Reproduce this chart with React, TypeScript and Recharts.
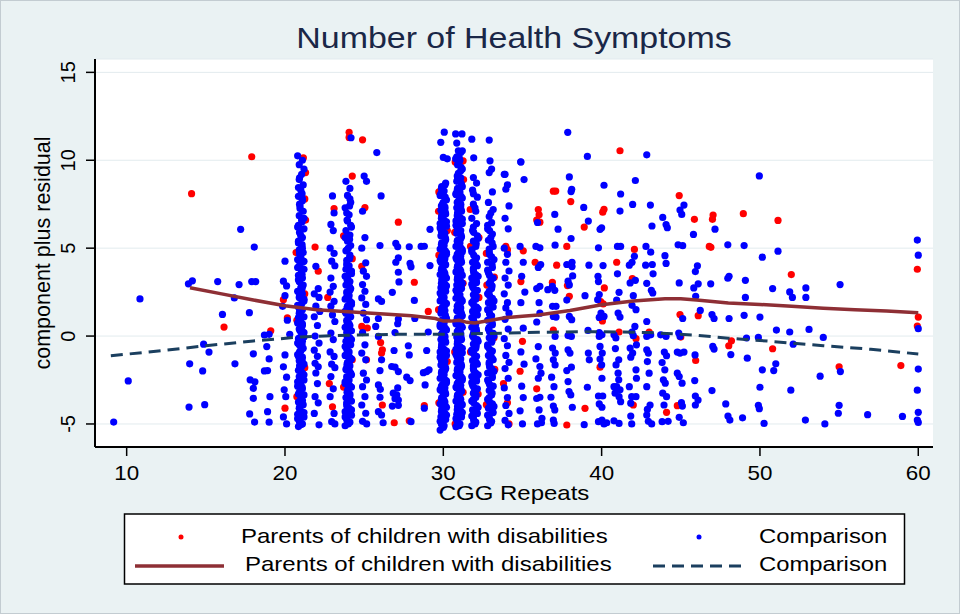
import React from 'react';
import { ScatterChart, Scatter, XAxis, YAxis, CartesianGrid } from 'recharts';

type P = [number, number];

const FONT = '"Liberation Sans", Arial, Helvetica, sans-serif';
const chartTitle = 'Number of Health Symptoms';
const xTitle = 'CGG Repeats';
const yTitle = 'component plus residual';
const seriesNames = ['Parents of children with disabilities', 'Comparison'];
const xTicks = [10, 20, 30, 40, 50, 60];
const yTicks = [-5, 0, 5, 10, 15];

// ---------- Comparison group (blue) ----------
const comparisonLeft: P[] = [
  [17.2, 6.07], [18.06, 5.06], [13.9, 2.97], [14.15, 3.14], [15.75, 3.1], [17.1, 2.93], [17.9, 3.1], [18.15, 3.1],
  [10.84, 2.11], [16.8, 2.17], [16.05, 1.23], [17.75, 1.33], [18.7, 0.06], [14.86, -0.46], [15.2, -0.91], [18.0, -1.01],
  [13.98, -1.58], [14.8, -1.98], [16.84, -1.58], [10.1, -2.55], [17.8, -2.49], [18.1, -2.6], [18.0, -2.97], [18.0, -3.54],
  [13.94, -4.04], [14.93, -3.9], [17.77, -4.43], [18.08, -4.89], [9.18, -4.89], [18.7, -1.98],
  [19.0, 0.1], [18.85, -0.6], [19.0, -1.3], [18.9, -1.96], [19.05, -3.45], [18.9, -4.3], [19.0, -4.9],
  [20.0, 4.26], [19.9, 3.12], [20.1, 2.85], [20.0, 2.3], [19.85, 1.69], [20.15, 0.9], [20.3, 0.1], [20.0, -1.07],
  [19.9, -1.75], [20.1, -2.34], [19.95, -3.06], [20.05, -3.45], [19.9, -4.6], [20.1, -5.0],
];

const comparisonCol21: P[] = [
  [20.85, -5.15], [21.1, -5.0], [20.95, -4.8], [21.2, -4.6], [20.8, -4.45], [21.05, -4.3], [20.9, -4.1], [21.15, -3.9],
  [20.85, -3.75], [21.0, -3.55], [21.2, -3.35], [20.9, -3.2], [21.1, -3.0], [20.8, -2.85], [21.0, -2.65], [21.2, -2.5],
  [20.9, -2.3], [21.1, -2.1], [20.85, -1.95], [21.05, -1.75], [21.2, -1.6], [20.9, -1.4], [21.1, -1.2], [20.8, -1.05],
  [21.0, -0.85], [21.15, -0.7], [20.9, -0.5], [21.1, -0.3], [20.85, -0.15], [21.05, 0.05], [21.2, 0.2], [20.9, 0.4],
  [21.1, 0.6], [20.8, 0.75], [21.0, 0.95], [21.2, 1.1], [20.9, 1.3], [21.1, 1.5], [20.85, 1.65], [21.05, 1.85],
  [21.2, 2.0], [20.9, 2.2], [21.1, 2.4], [20.8, 2.55], [21.0, 2.75], [21.15, 2.9], [20.9, 3.1], [21.1, 3.3],
  [20.85, 3.45], [21.05, 3.65], [21.2, 3.8], [20.9, 4.0], [21.1, 4.2], [20.8, 4.35], [21.0, 4.55], [21.15, 4.75],
  [20.9, 4.9], [21.05, 5.15], [20.85, 5.4], [21.1, 5.6], [20.95, 5.85], [21.2, 6.1], [20.85, 6.3], [21.05, 6.6],
  [20.9, 6.85], [21.15, 7.1], [20.95, 7.4], [21.1, 7.7], [20.85, 7.95], [21.0, 8.3], [21.15, 8.6], [20.9, 8.9],
  [21.05, 9.2], [21.2, 9.5], [20.9, 9.75], [20.8, 10.25], [21.1, 10.0],
];

const comparisonCol21b: P[] = [
  [21.0, -5.05], [20.8, -4.7], [21.2, -4.35], [20.95, -4.0], [21.1, -3.65], [20.85, -3.3], [21.0, -2.95], [20.8, -2.6],
  [21.2, -2.2], [20.95, -1.85], [21.1, -1.5], [20.85, -1.15], [21.0, -0.8], [20.8, -0.4], [21.2, -0.05], [20.95, 0.3],
  [21.1, 0.7], [20.85, 1.05], [21.0, 1.4], [20.8, 1.75], [21.2, 2.1], [20.95, 2.5], [21.1, 2.85], [20.85, 3.2],
  [21.0, 3.55], [20.8, 3.9], [21.2, 4.25], [20.95, 4.65], [21.1, 5.0], [20.85, 5.3], [21.0, 5.7], [20.8, 6.2],
  [21.2, 6.7], [20.95, 7.25], [21.1, 7.8], [20.85, 8.45],
];

const comparisonCol21c: P[] = [
  [20.92, -4.9], [21.08, -4.5], [20.92, -4.1], [21.08, -3.7], [20.92, -3.3], [21.08, -2.9], [20.92, -2.5], [21.08, -2.1],
  [20.92, -1.7], [21.08, -1.3], [20.92, -0.9], [21.08, -0.5], [20.92, -0.1], [21.08, 0.3], [20.92, 0.7], [21.08, 1.1],
  [20.92, 1.5], [21.08, 1.9], [20.92, 2.3], [21.08, 2.7], [20.92, 3.1], [21.08, 3.5], [20.92, 3.9], [21.08, 4.3],
  [20.92, 4.7], [21.08, 5.2], [20.92, 5.9], [21.08, 6.5], [20.92, 7.5], [21.08, 8.1], [20.92, 9.0],
];

const comparisonCol22to23: P[] = [
  [21.95, 3.97], [22.1, 2.7], [21.85, 2.4], [22.15, 2.2], [21.95, 1.7], [22.2, 1.4], [21.85, 1.1], [22.05, 0.6],
  [21.9, 0.0], [22.15, -0.4], [21.85, -0.8], [22.05, -1.15], [21.9, -1.55], [22.1, -1.75], [21.95, -2.1], [22.05, -2.7],
  [21.9, -3.45], [22.1, -3.8], [21.85, -4.4], [22.15, -5.05],
  [23.0, 7.97], [23.1, 7.0], [22.9, 6.35], [23.05, 6.0], [22.85, 5.0], [23.1, 4.7], [22.95, 4.26], [23.15, 4.0],
  [22.9, 3.3], [23.05, 2.83], [22.85, 2.5], [23.1, 1.97], [22.9, 1.7], [23.0, 1.2], [23.15, 0.83], [22.9, 0.17],
  [23.05, -0.2], [22.85, -0.9], [23.1, -1.16], [22.95, -1.6], [23.15, -1.8], [22.9, -2.3], [23.05, -3.0], [22.85, -3.45],
  [23.1, -4.4], [22.95, -4.87], [23.15, -5.0],
];

const comparisonCol24: P[] = [
  [23.8, -5.1], [24.1, -4.9], [23.9, -4.7], [24.2, -4.5], [23.8, -4.3], [24.05, -4.1], [23.9, -3.9], [24.2, -3.7],
  [23.85, -3.5], [24.1, -3.3], [23.95, -3.1], [24.2, -2.9], [23.8, -2.7], [24.05, -2.5], [23.9, -2.3], [24.15, -2.1],
  [23.85, -1.9], [24.1, -1.7], [23.95, -1.5], [24.2, -1.3], [23.8, -1.1], [24.05, -0.9], [23.9, -0.7], [24.15, -0.5],
  [23.85, -0.3], [24.1, -0.1], [23.95, 0.1], [24.2, 0.3], [23.8, 0.5], [24.05, 0.7], [23.9, 0.9], [24.15, 1.1],
  [23.85, 1.3], [24.1, 1.5], [23.95, 1.7], [24.2, 1.9], [23.8, 2.1], [24.05, 2.3], [23.9, 2.5], [24.15, 2.7],
  [23.85, 2.9], [24.1, 3.1], [23.95, 3.3], [24.2, 3.55], [23.85, 3.8], [24.05, 4.0], [23.9, 4.3], [24.1, 4.6],
  [23.85, 4.85], [24.15, 5.15], [23.95, 5.4], [24.1, 5.75], [23.85, 6.0], [24.15, 6.3], [23.95, 6.55], [24.05, 6.9],
  [23.8, 7.3], [24.15, 7.6], [23.95, 8.0], [24.1, 8.4], [23.85, 8.8], [24.17, 11.28],
];

const comparisonCol24b: P[] = [
  [24.0, -5.0], [23.8, -4.6], [24.2, -4.2], [23.9, -3.8], [24.1, -3.4], [24.0, -3.0], [23.8, -2.6], [24.2, -2.2],
  [23.9, -1.8], [24.1, -1.4], [24.0, -1.0], [23.8, -0.6], [24.2, -0.2], [23.9, 0.2], [24.1, 0.6], [24.0, 1.0],
  [23.8, 1.4], [24.2, 1.8], [23.9, 2.2], [24.1, 2.6], [24.0, 3.0], [23.8, 3.4], [24.2, 3.7], [23.9, 4.1],
  [24.1, 4.5], [24.0, 5.0], [23.8, 5.6], [24.2, 6.2], [23.9, 7.0], [24.1, 7.8],
];

const comparisonCol24c: P[] = [
  [23.92, -4.8], [24.08, -4.4], [23.92, -4.0], [24.08, -3.6], [23.92, -3.2], [24.08, -2.8], [23.92, -2.4], [24.08, -2.0],
  [23.92, -1.6], [24.08, -1.2], [23.92, -0.8], [24.08, -0.4], [23.92, 0.0], [24.08, 0.4], [23.92, 0.8], [24.08, 1.2],
  [23.92, 1.6], [24.08, 2.0], [23.92, 2.4], [24.08, 2.8], [23.92, 3.2], [24.08, 3.6], [23.92, 4.0], [24.08, 4.4],
  [23.92, 4.9], [24.08, 5.5], [23.92, 6.6], [24.08, 7.4],
];

const comparisonCol25to29: P[] = [
  [25.0, 9.1], [25.15, 8.8], [24.9, 7.1], [25.05, 5.6], [24.85, 5.0], [25.1, 4.17], [24.95, 3.69], [25.15, 3.4],
  [24.9, 2.93], [25.05, 2.55], [24.85, 2.17], [25.1, 1.8], [24.95, 1.31], [25.15, 0.93], [24.9, 0.2], [25.05, -0.5],
  [24.85, -0.97], [25.1, -1.35], [24.95, -2.11], [25.15, -2.5], [24.9, -2.88], [25.05, -3.45], [24.85, -3.92], [25.1, -4.39],
  [25.16, -5.0], [24.9, -4.85],
  [25.8, 10.44], [26.07, 7.97], [26.0, 5.15], [25.9, 2.11], [26.1, 1.97], [25.9, 1.0], [25.73, 0.55], [25.9, -0.02],
  [26.1, -1.35], [26.0, -1.96], [25.9, -2.78], [26.02, -3.03], [26.0, -3.48], [25.9, -4.3], [26.1, -4.49], [26.2, -4.93],
  [27.0, 5.27], [27.12, 5.08], [27.16, 4.45], [27.0, 4.2], [27.16, 3.63], [27.2, 3.08], [26.78, 2.49], [27.16, 0.97],
  [27.12, 0.7], [26.95, 0.2], [26.89, -0.82], [26.74, -1.73], [26.95, -1.77], [27.16, -2.02], [27.12, -2.95], [26.84, -3.25],
  [27.06, -3.35], [26.95, -3.56], [27.16, -3.64], [26.78, -3.98], [27.16, -3.94],
  [27.85, 5.08], [27.9, 4.13], [27.96, 3.94], [28.17, 2.03], [28.2, 1.0], [27.79, -0.55], [27.85, -1.07], [27.69, -2.34],
  [27.9, -2.53], [27.96, -4.87],
  [29.16, 6.07], [28.8, 5.11], [28.6, 5.1], [29.16, 4.01], [29.05, 0.23], [28.95, -0.82], [28.74, -2.08], [28.95, -2.02],
  [28.85, -2.78], [28.8, -4.1], [29.1, -1.92],
];

const comparisonCol30: P[] = [
  [29.8, -5.35], [30.05, -5.1], [29.9, -4.95], [30.15, -4.75], [29.85, -4.6], [30.1, -4.4], [29.95, -4.2], [30.2, -4.05],
  [29.8, -3.85], [30.05, -3.65], [29.9, -3.5], [30.15, -3.3], [29.85, -3.1], [30.1, -2.95], [29.95, -2.75], [30.2, -2.55],
  [29.8, -2.4], [30.05, -2.2], [29.9, -2.0], [30.15, -1.85], [29.85, -1.65], [30.1, -1.45], [29.95, -1.3], [30.2, -1.1],
  [29.8, -0.9], [30.05, -0.75], [29.9, -0.55], [30.15, -0.35], [29.85, -0.2], [30.1, 0.0], [29.95, 0.2], [30.2, 0.35],
  [29.8, 0.55], [30.05, 0.75], [29.9, 0.9], [30.15, 1.1], [29.85, 1.3], [30.1, 1.45], [29.95, 1.65], [30.2, 1.85],
  [29.8, 2.0], [30.05, 2.2], [29.9, 2.4], [30.15, 2.55], [29.85, 2.75], [30.1, 2.95], [29.95, 3.1], [30.2, 3.3],
  [29.8, 3.5], [30.05, 3.65], [29.9, 3.85], [30.15, 4.05], [29.85, 4.2], [30.1, 4.4], [29.95, 4.6], [30.2, 4.75],
  [29.8, 4.95], [30.05, 5.15], [29.9, 5.3], [30.15, 5.5], [29.85, 5.7], [30.1, 5.85], [29.95, 6.05], [30.2, 6.25],
  [29.8, 6.4], [30.05, 6.6], [29.9, 6.8], [30.15, 6.95], [29.85, 7.15], [30.1, 7.35], [29.95, 7.5], [30.2, 7.75],
  [29.8, 8.0], [30.05, 8.25], [29.9, 8.5], [30.15, 8.7],
];

const comparisonCol30b: P[] = [
  [30.0, -5.2], [29.8, -4.85], [30.2, -4.5], [29.9, -4.15], [30.1, -3.75], [30.0, -3.4], [29.8, -3.05], [30.2, -2.65],
  [29.9, -2.3], [30.1, -1.95], [30.0, -1.55], [29.8, -1.2], [30.2, -0.85], [29.9, -0.45], [30.1, -0.1], [30.0, 0.25],
  [29.8, 0.65], [30.2, 1.0], [29.9, 1.35], [30.1, 1.75], [30.0, 2.1], [29.8, 2.45], [30.2, 2.85], [29.9, 3.2],
  [30.1, 3.55], [30.0, 3.95], [29.8, 4.3], [30.2, 4.65], [29.9, 5.05], [30.1, 5.4], [30.0, 5.75], [29.8, 6.15],
  [30.2, 6.5], [29.9, 6.85], [30.1, 7.25], [30.0, 7.6], [29.85, 8.1], [30.1, 8.6],
];

const comparisonCol30c: P[] = [
  [29.88, -5.0], [30.12, -4.65], [29.88, -4.3], [30.12, -3.95], [29.88, -3.6], [30.12, -3.2], [29.88, -2.85], [30.12, -2.5],
  [29.88, -2.1], [30.12, -1.75], [29.88, -1.4], [30.12, -1.0], [29.88, -0.65], [30.12, -0.3], [29.88, 0.1], [30.12, 0.45],
  [29.88, 0.8], [30.12, 1.2], [29.88, 1.55], [30.12, 1.9], [29.88, 2.3], [30.12, 2.65], [29.88, 3.0], [30.12, 3.4],
  [29.88, 3.75], [30.12, 4.1], [29.88, 4.5], [30.12, 4.85], [29.88, 5.2], [30.12, 5.6], [29.88, 5.95], [30.12, 6.3],
  [29.88, 6.7], [30.12, 7.05], [29.88, 7.4], [30.12, 7.9], [29.88, 8.4],
];

const comparisonCol31: P[] = [
  [30.8, -5.16], [31.05, -5.0], [30.9, -4.8], [31.15, -4.6], [30.85, -4.45], [31.1, -4.25], [30.95, -4.05], [31.2, -3.9],
  [30.8, -3.7], [31.05, -3.5], [30.9, -3.35], [31.15, -3.15], [30.85, -2.95], [31.1, -2.8], [30.95, -2.6], [31.2, -2.4],
  [30.8, -2.25], [31.05, -2.05], [30.9, -1.85], [31.15, -1.7], [30.85, -1.5], [31.1, -1.3], [30.95, -1.15], [31.2, -0.95],
  [30.8, -0.75], [31.05, -0.6], [30.9, -0.4], [31.15, -0.2], [30.85, -0.05], [31.1, 0.15], [30.95, 0.35], [31.2, 0.5],
  [30.8, 0.7], [31.05, 0.9], [30.9, 1.05], [31.15, 1.25], [30.85, 1.45], [31.1, 1.6], [30.95, 1.8], [31.2, 2.0],
  [30.8, 2.15], [31.05, 2.35], [30.9, 2.55], [31.15, 2.7], [30.85, 2.9], [31.1, 3.1], [30.95, 3.25], [31.2, 3.45],
  [30.8, 3.65], [31.05, 3.8], [30.9, 4.0], [31.15, 4.2], [30.85, 4.35], [31.1, 4.55], [30.95, 4.75], [31.2, 4.9],
  [30.8, 5.1], [31.05, 5.3], [30.9, 5.45], [31.15, 5.65], [30.85, 5.85], [31.1, 6.0], [30.95, 6.2], [31.2, 6.4],
  [30.8, 6.55], [31.05, 6.75], [30.9, 6.95], [31.15, 7.1], [30.85, 7.3], [31.1, 7.5], [30.95, 7.65], [31.2, 7.85],
  [30.8, 8.05], [31.05, 8.2], [30.9, 8.4], [31.15, 8.6], [30.85, 8.8], [31.1, 9.0], [30.95, 9.25], [31.2, 9.5],
  [30.9, 9.75], [31.05, 10.0], [30.85, 10.2], [31.1, 10.44],
];

const comparisonCol31b: P[] = [
  [31.0, -5.1], [30.8, -4.7], [31.2, -4.35], [30.9, -4.0], [31.1, -3.6], [31.0, -3.25], [30.8, -2.9], [31.2, -2.5],
  [30.9, -2.15], [31.1, -1.8], [31.0, -1.4], [30.8, -1.05], [31.2, -0.7], [30.9, -0.3], [31.1, 0.05], [31.0, 0.4],
  [30.8, 0.8], [31.2, 1.15], [30.9, 1.5], [31.1, 1.9], [31.0, 2.25], [30.8, 2.6], [31.2, 3.0], [30.9, 3.35],
  [31.1, 3.7], [31.0, 4.1], [30.8, 4.45], [31.2, 4.8], [30.9, 5.2], [31.1, 5.55], [31.0, 5.9], [30.8, 6.3],
  [31.2, 6.65], [30.9, 7.0], [31.1, 7.4], [31.0, 7.75], [30.8, 8.1], [31.2, 8.5], [30.9, 8.9], [31.1, 9.4],
  [31.0, 9.9],
];

const comparisonCol31c: P[] = [
  [30.88, -4.95], [31.12, -4.55], [30.88, -4.2], [31.12, -3.8], [30.88, -3.45], [31.12, -3.05], [30.88, -2.7], [31.12, -2.3],
  [30.88, -1.95], [31.12, -1.6], [30.88, -1.2], [31.12, -0.85], [30.88, -0.45], [31.12, -0.1], [30.88, 0.25], [31.12, 0.6],
  [30.88, 1.0], [31.12, 1.35], [30.88, 1.7], [31.12, 2.1], [30.88, 2.45], [31.12, 2.8], [30.88, 3.2], [31.12, 3.55],
  [30.88, 3.9], [31.12, 4.3], [30.88, 4.65], [31.12, 5.0], [30.88, 5.4], [31.12, 5.75], [30.88, 6.1], [31.12, 6.5],
  [30.88, 6.85], [31.12, 7.2], [30.88, 7.6], [31.12, 7.95], [30.88, 8.3], [31.12, 8.7], [30.88, 9.1], [31.12, 9.6],
];

const comparisonCol32to33: P[] = [
  [31.8, -5.1], [32.05, -4.9], [31.9, -4.65], [32.15, -4.4], [31.85, -4.2], [32.1, -3.95], [31.8, -3.7], [32.05, -3.5],
  [31.9, -3.25], [32.15, -3.0], [31.85, -2.8], [32.1, -2.55], [31.8, -2.3], [32.05, -2.1], [31.9, -1.85], [32.15, -1.6],
  [31.85, -1.4], [32.1, -1.15], [31.8, -0.9], [32.05, -0.7], [31.9, -0.45], [32.15, -0.2], [31.85, 0.0], [32.1, 0.25],
  [31.8, 0.5], [32.05, 0.7], [31.9, 0.95], [32.15, 1.2], [31.85, 1.4], [32.1, 1.65], [31.8, 1.9], [32.05, 2.1],
  [31.9, 2.35], [32.15, 2.6], [31.85, 2.8], [32.1, 3.05], [31.8, 3.3], [32.05, 3.5], [31.9, 3.75], [32.15, 4.0],
  [31.85, 4.2], [32.1, 4.45], [31.8, 4.8], [32.05, 5.1], [31.9, 5.4], [32.15, 5.7], [31.85, 6.0], [32.1, 6.4],
  [31.8, 6.7], [32.05, 7.1], [31.9, 7.5], [32.15, 7.9], [31.85, 8.3], [32.1, 8.7], [31.9, 9.02],
  [32.8, -5.1], [33.05, -4.85], [32.9, -4.6], [33.15, -4.35], [32.85, -4.1], [33.1, -3.85], [32.8, -3.6], [33.05, -3.35],
  [32.9, -3.1], [33.15, -2.85], [32.85, -2.6], [33.1, -2.35], [32.8, -2.1], [33.05, -1.85], [32.9, -1.6], [33.15, -1.35],
  [32.85, -1.1], [33.1, -0.85], [32.8, -0.6], [33.05, -0.35], [32.9, -0.1], [33.15, 0.15], [32.85, 0.4], [33.1, 0.65],
  [32.8, 0.9], [33.05, 1.15], [32.9, 1.4], [33.15, 1.65], [32.85, 1.9], [33.1, 2.15], [32.8, 2.4], [33.05, 2.7],
  [32.9, 3.0], [33.15, 3.3], [32.85, 3.6], [33.1, 3.9], [32.8, 4.2], [33.05, 4.5], [32.9, 4.8], [33.15, 5.1],
  [32.85, 5.45], [33.1, 5.8], [32.8, 6.1], [33.05, 6.45], [32.9, 6.8], [33.15, 7.2], [32.85, 7.6], [33.1, 8.2],
  [32.9, 9.3], [33.05, 9.5],
];

const comparisonCol32to33b: P[] = [
  [32.0, -5.0], [31.8, -4.55], [32.2, -4.05], [31.9, -3.6], [32.0, -3.1], [31.8, -2.65], [32.2, -2.2], [31.9, -1.7],
  [32.0, -1.25], [31.8, -0.8], [32.2, -0.3], [31.9, 0.15], [32.0, 0.6], [31.8, 1.05], [32.2, 1.55], [31.9, 2.0],
  [32.0, 2.45], [31.8, 2.95], [32.2, 3.4], [31.9, 3.85], [32.0, 4.3], [31.8, 4.9], [32.2, 5.55], [31.9, 6.2],
  [32.0, 7.3], [31.9, 8.1],
  [33.0, -4.95], [32.8, -4.5], [33.2, -4.0], [32.9, -3.5], [33.0, -3.0], [32.8, -2.5], [33.2, -2.0], [32.9, -1.5],
  [33.0, -1.0], [32.8, -0.5], [33.2, 0.0], [32.9, 0.5], [33.0, 1.0], [32.8, 1.5], [33.2, 2.0], [32.9, 2.55],
  [33.0, 3.15], [32.8, 3.75], [33.2, 4.35], [32.9, 4.95], [33.0, 5.6], [32.8, 6.3], [33.0, 7.0],
];

const comparisonCol32to33c: P[] = [
  [31.92, -4.8], [32.08, -4.3], [31.92, -3.8], [32.08, -3.35], [31.92, -2.9], [32.08, -2.4], [31.92, -1.95], [32.08, -1.5],
  [31.92, -1.0], [32.08, -0.55], [31.92, -0.1], [32.08, 0.4], [31.92, 0.85], [32.08, 1.3], [31.92, 1.75], [32.08, 2.25],
  [31.92, 2.7], [32.08, 3.15], [31.92, 3.6], [32.08, 4.1], [31.92, 4.6], [32.08, 5.25], [31.92, 5.9],
  [32.92, -4.75], [33.08, -4.25], [32.92, -3.75], [33.08, -3.25], [32.92, -2.75], [33.08, -2.25], [32.92, -1.75],
  [33.08, -1.25], [32.92, -0.75], [33.08, -0.25], [32.92, 0.25], [33.08, 0.75], [32.92, 1.25], [33.08, 1.75],
  [32.92, 2.3], [33.08, 2.85], [32.92, 3.45], [33.08, 4.05], [32.92, 4.65], [33.08, 5.3], [32.92, 6.0],
];

const comparisonCol34to36: P[] = [
  [33.85, 9.2], [34.05, 8.6], [33.95, 8.35], [34.15, 7.4], [33.9, 6.7], [34.1, 6.1], [33.85, 5.0], [34.05, 4.65],
  [33.95, 4.2], [34.15, 3.7], [33.9, 3.3], [34.1, 2.9], [33.85, 2.4], [34.05, 1.9], [33.95, 1.6], [34.15, 1.3],
  [33.9, 0.95], [34.1, 0.4], [33.85, -0.15], [34.05, -0.55], [33.95, -1.1], [34.15, -1.5], [33.9, -1.85], [34.1, -2.4],
  [33.85, -2.95], [34.05, -3.5], [33.95, -3.95], [34.15, -4.4], [33.9, -4.8], [34.1, -5.05],
  [34.9, 9.9], [35.1, 8.9], [34.85, 5.1], [35.05, 4.2], [34.95, 3.4], [35.15, 2.5], [34.9, 1.9], [35.05, 0.45],
  [34.9, -0.9], [35.1, -1.6], [34.95, -2.85], [35.05, -3.5], [34.85, -4.25], [35.0, -5.0],
  [35.95, 6.46], [35.85, 5.1], [36.0, 3.9], [35.9, 2.7], [36.05, 1.9], [35.9, 0.8], [36.0, -0.6], [35.85, -1.3],
  [36.0, -2.4], [35.9, -3.55], [36.05, -4.2], [35.95, -5.0], [36.6, 2.64],
];

const comparisonTop: P[] = [
  [30.06, 11.6], [30.78, 11.5], [31.18, 11.5], [29.84, 11.02], [30.85, 10.98], [31.8, 11.2], [32.9, 11.15],
  [30.95, 10.54], [31.2, 10.54], [30.0, 10.16], [30.25, 10.08], [30.78, 10.08], [31.0, 10.16], [31.92, 10.14],
  [32.95, 9.97], [33.9, 9.2], [34.89, 9.91],
];

const comparisonMid: P[] = [
  [37.86, 11.59], [39.1, 10.22], [42.85, 10.31], [37.96, 9.05], [42.13, 8.85], [38.11, 8.35], [38.07, 8.22], [40.15, 8.58],
  [41.2, 8.08], [45.2, 7.45], [38.87, 7.32], [41.16, 7.11], [41.96, 7.49], [43.08, 7.45], [44.95, 7.17], [45.06, 6.92],
  [47.16, 6.08], [37.04, 6.92], [39.16, 6.54], [37.25, 6.08], [39.9, 6.07], [40.0, 6.16], [43.86, 6.75], [44.07, 6.34],
  [44.15, 6.16], [43.18, 6.26], [45.8, 5.78], [38.07, 5.55], [37.06, 5.17], [39.8, 5.02], [41.0, 5.1], [41.2, 5.1],
  [42.8, 5.1], [44.83, 5.19], [45.12, 5.14], [47.97, 5.19], [43.1, 4.77], [44.0, 4.57], [42.07, 4.54], [37.8, 4.07],
  [38.13, 4.2], [38.13, 3.95], [39.2, 4.03], [40.09, 4.01], [41.75, 4.03], [41.92, 4.2], [42.78, 4.03], [43.2, 4.07],
  [44.07, 4.13], [46.05, 4.0], [45.92, 3.67], [41.0, 3.54], [38.17, 3.42], [39.77, 3.4], [39.8, 3.1], [43.25, 3.54],
  [48.05, 3.4], [47.97, 3.29], [42.13, 3.17], [37.88, 3.12], [37.96, 2.91], [41.8, 3.02], [42.85, 3.0], [44.9, 3.02],
  [46.1, 2.97], [46.89, 2.97], [36.89, 2.83], [37.04, 2.6], [43.14, 2.6], [43.23, 2.45], [41.1, 2.49], [38.95, 2.3],
  [39.85, 2.36], [39.75, 2.07], [42.0, 2.3], [45.82, 2.74], [45.94, 2.26], [40.95, 2.05], [37.8, 2.05], [36.9, 1.69],
  [37.12, 1.69], [41.92, 1.75], [39.96, 1.31], [40.15, 1.12], [39.85, 1.06], [42.17, 1.5], [41.04, 1.31], [41.16, 1.08],
  [46.23, 1.46], [46.97, 1.22], [47.1, 1.0], [45.12, 1.0], [48.05, 1.0], [36.95, 1.12], [37.12, 1.08], [37.96, 1.12],
  [38.11, 0.93], [42.85, 0.83], [42.1, 0.55], [41.92, 0.23], [42.0, 0.02], [39.14, 0.32], [39.85, 0.2], [40.02, 0.07],
  [39.85, -0.02], [40.78, 0.07], [40.9, -0.11], [42.85, -0.02], [43.1, 0.07], [43.73, 0.07], [44.07, -0.02], [44.87, 0.17],
  [44.95, -0.02], [37.88, 0.03], [38.09, -0.02], [37.06, -0.02], [48.16, -1.05], [47.02, -0.59], [47.1, -0.74], [45.9, -1.07],
  [44.78, -0.91], [44.95, -0.97], [45.2, -0.91], [43.96, -0.91], [44.1, -1.12], [42.85, -0.78], [42.95, -0.97], [41.8, -0.68],
  [41.96, -0.97], [41.84, -1.2], [42.2, -0.5], [40.87, -0.71], [41.08, -1.35], [40.91, -1.64], [39.9, -0.59], [40.04, -0.97],
  [39.9, -1.31], [40.0, -1.64], [40.02, -2.4], [39.16, -0.97], [39.22, -1.35], [37.88, -0.78], [38.0, -0.97], [37.8, -1.96],
  [38.09, -1.77], [36.9, -0.68], [37.07, -0.97], [36.95, -1.35], [37.06, -1.64], [36.84, -2.34], [36.99, -2.88], [37.88, -2.59],
  [37.94, -3.16], [38.05, -3.35], [39.1, -2.91], [39.8, -3.41], [40.07, -3.41], [39.85, -3.86], [40.02, -4.05], [40.78, -2.88],
  [40.95, -2.88], [41.16, -3.06], [40.85, -3.25], [41.1, -3.45], [41.2, -3.73], [41.04, -2.11], [41.08, -2.49], [41.75, -2.88],
  [41.9, -3.45], [41.84, -3.82], [42.17, -1.92], [42.2, -2.4], [42.17, -3.45], [42.89, -1.45], [43.0, -2.11], [42.85, -2.88],
  [43.06, -3.92], [42.89, -4.17], [43.82, -1.51], [43.99, -1.92], [43.9, -2.49], [44.02, -2.68], [43.86, -3.25], [44.1, -3.45],
  [43.94, -3.92], [44.78, -2.11], [44.9, -2.3], [45.08, -2.68], [45.04, -3.79], [45.1, -3.98], [45.88, -2.53], [45.92, -3.41],
  [46.09, -3.64], [45.92, -3.92], [46.97, -3.1], [47.84, -3.86], [47.98, -4.55], [48.1, -4.78], [38.15, -4.05], [36.95, -3.98],
  [37.04, -4.2], [36.8, -3.48], [38.9, -5.04], [39.8, -4.87], [40.02, -4.78], [40.15, -5.0], [40.32, -4.93], [40.78, -4.82],
  [41.1, -4.97], [41.84, -4.55], [41.9, -5.0], [42.85, -4.49], [42.95, -4.85], [43.16, -5.0], [43.82, -4.87], [44.2, -4.85],
  [44.9, -4.62], [45.16, -4.93], [36.2, -4.93], [36.23, -4.68], [36.95, -4.78], [37.0, -4.97], [36.1, 2.83], [36.15, 4.07],
  [36.1, 5.02], [36.1, 1.3], [36.1, -1.73], [36.17, -2.11], [36.1, -3.48],
];

const comparisonRight: P[] = [
  [49.96, 9.11], [59.94, 5.46], [49.0, 5.15], [60.0, 4.6], [50.15, 4.49], [51.14, 4.83], [49.08, 3.17], [55.06, 2.93],
  [50.8, 2.7], [51.88, 2.51], [52.9, 2.74], [52.05, 2.2], [52.9, 2.2], [49.08, 2.2], [49.0, 1.18], [50.0, 1.08],
  [60.0, 0.42], [51.04, 0.34], [51.88, 0.23], [53.1, 0.38], [54.0, -0.08], [49.15, -0.11], [49.9, -0.08], [52.1, -0.46],
  [49.2, -1.26], [55.08, -2.02], [60.0, -1.88], [50.15, -1.92], [50.87, -1.96], [51.0, -1.58], [53.8, -2.28], [50.0, -2.91],
  [51.95, -3.08], [59.94, -3.08], [49.9, -3.94], [49.96, -4.13], [55.0, -3.94], [54.95, -4.39], [56.8, -4.47], [59.0, -4.57],
  [60.0, -4.34], [59.94, -4.78], [60.0, -4.91], [48.9, -4.65], [50.26, -4.97], [52.87, -4.78], [54.1, -5.0],
];

// ---------- Parents of children with disabilities (red) ----------
const parentsLeft: P[] = [
  [17.9, 10.2], [14.1, 8.1], [16.15, 0.51], [19.9, 2.07], [20.15, 1.03], [20.0, -4.1], [19.1, 0.3],
  [21.16, 10.14], [21.3, 9.3], [21.25, 7.8], [21.3, 6.6], [20.7, 4.75], [21.25, 2.4], [20.75, 0.9], [21.25, -1.8], [20.75, -3.45],
  [21.9, 5.06], [22.1, 3.69], [23.1, 7.25], [22.8, -2.7], [23.0, -4.02], [22.7, 2.2],
  [24.05, 11.59], [24.05, 11.3], [24.25, 9.1], [23.7, 5.7], [24.25, 4.4], [24.25, -1.35], [23.7, -2.9],
  [24.9, 11.16], [25.05, 7.31], [24.85, 3.97], [25.2, 0.46], [24.85, 0.55], [25.15, -1.35],
  [26.04, -0.37], [26.15, -0.78], [26.1, -0.97], [26.15, -3.92], [27.16, 6.48], [26.9, -4.93],
  [28.17, 3.06], [27.85, -4.82], [29.05, 1.4], [28.8, -3.96],
];

const parentsCenter: P[] = [
  [29.72, 8.2], [29.7, 7.1], [29.72, 4.6], [29.7, 1.5], [30.25, -1.45], [29.72, -3.8], [30.25, 6.0],
  [31.25, 9.97], [30.75, 9.9], [31.28, 8.9], [30.72, 5.9], [31.25, 3.0], [30.72, -0.9], [31.25, -3.2], [30.75, -5.0],
  [30.88, 9.91], [31.14, 9.95],
  [31.7, 7.2], [32.25, 5.6], [31.72, 5.1], [32.25, 2.2], [31.72, -0.9], [32.2, -3.3],
  [32.72, 4.7], [33.22, 3.35], [32.75, 2.9], [33.2, -0.1], [32.72, -3.9], [33.25, -1.9],
  [33.95, 5.1], [34.05, 4.9], [33.8, -2.7], [34.05, -3.8], [34.15, -5.0],
  [35.05, 4.85], [34.9, 3.1], [35.0, -0.3], [34.85, -2.0],
  [36.0, 7.2], [36.05, 6.9], [35.9, 6.6], [35.8, 4.2], [35.9, -3.0],
];

const parentsRight: P[] = [
  [41.16, 10.54], [36.95, 8.24], [37.1, 8.25], [44.9, 7.99], [38.05, 7.65], [40.15, 7.21], [40.07, 7.05], [45.86, 6.64],
  [47.04, 6.88], [47.0, 6.64], [38.9, 6.2], [37.8, 5.1], [42.07, 4.93], [46.8, 5.1], [46.9, 5.05], [40.95, 4.2],
  [37.16, 4.03], [41.94, 3.27], [36.89, 3.06], [37.84, 2.87], [40.17, 2.74], [37.96, 2.26], [39.94, 1.96], [40.1, 1.83],
  [46.1, 1.16], [44.95, 1.22], [40.05, 0.86], [36.95, 0.34], [41.1, 0.23], [43.0, 0.23], [42.17, -0.15], [45.0, -0.06],
  [48.2, -0.27], [48.03, -0.55], [45.94, -1.39], [39.9, -1.77], [42.0, -3.92], [44.1, -4.34], [44.78, -3.96], [38.95, -4.11],
  [37.8, -5.06], [36.1, 6.48],
  [48.95, 6.96], [51.14, 6.58], [59.94, 3.8], [51.98, 3.5], [60.0, 1.08], [59.94, 0.57], [50.8, -0.72], [55.0, -1.75],
  [58.9, -1.68],
];

// ---------- Fitted (lowess) curves ----------
const parentsFit: P[] = [
  [14, 2.75], [16, 2.4], [18, 2.05], [20, 1.72], [22, 1.5], [24, 1.38], [26, 1.27], [28, 1.15], [29.5, 1.0],
  [30, 0.85], [30.5, 0.85], [31, 0.9], [31.5, 0.78], [32, 0.75], [33, 0.9], [34, 1.05], [35, 1.13], [36, 1.2],
  [38, 1.45], [40, 1.78], [42, 2.0], [44, 2.12], [45, 2.12], [46, 2.05], [48, 1.88], [50, 1.8], [52, 1.7],
  [54, 1.58], [56, 1.5], [58, 1.42], [60, 1.32],
];

const comparisonFit: P[] = [
  [9, -1.12], [12, -0.85], [15, -0.55], [18, -0.28], [21, -0.05], [24, 0.05], [27, 0.1], [30, 0.1], [33, 0.15],
  [36, 0.22], [40, 0.25], [43, 0.2], [46, 0.05], [48, -0.12], [50, -0.25], [54, -0.55], [57, -0.75], [60, -1.02],
];

const toRows = (arr: P[]) => arr.map(([x, y]) => ({ x, y }));

const comparisonData = toRows([
  ...comparisonLeft, ...comparisonCol21, ...comparisonCol21b, ...comparisonCol21c, ...comparisonCol22to23,
  ...comparisonCol24, ...comparisonCol24b, ...comparisonCol24c, ...comparisonCol25to29, ...comparisonCol30,
  ...comparisonCol30b, ...comparisonCol30c, ...comparisonCol31, ...comparisonCol31b, ...comparisonCol31c,
  ...comparisonCol32to33, ...comparisonCol32to33b, ...comparisonCol32to33c, ...comparisonCol34to36, ...comparisonTop,
  ...comparisonMid, ...comparisonRight,
]);
const parentsData = toRows([...parentsLeft, ...parentsCenter, ...parentsRight]);
const parentsFitData = toRows(parentsFit);
const comparisonFitData = toRows(comparisonFit);

const RED = '#FF0000';
const BLUE = '#0000FF';
const MAROON = '#8E2F35';
const NAVY = '#1B3F5F';
const R = 3.6;

const redDot = (p: any) => <circle cx={p.cx} cy={p.cy} r={R} fill={RED} />;
const blueDot = (p: any) => <circle cx={p.cx} cy={p.cy} r={R} fill={BLUE} />;
const noDot = () => <g />;

const XTick = (p: any) => (
  <text
    transform={`translate(${p.x},${p.y + 22}) scale(1.12,1)`}
    textAnchor="middle"
    fontSize={20}
    fontFamily={FONT}
    fill="#000"
  >
    {p.payload.value}
  </text>
);
const YTick = (p: any) => (
  <text
    transform={`translate(${p.x - 9},${p.y}) rotate(-90)`}
    textAnchor="middle"
    fontSize={20}
    fontFamily={FONT}
    fill="#000"
  >
    {p.payload.value}
  </text>
);

const Wide = ({ x, y, sx, size, anchor, fill, children }: any) => (
  <text
    transform={`translate(${x},${y}) scale(${sx},1)`}
    textAnchor={anchor || 'start'}
    fontSize={size}
    fontFamily={FONT}
    fill={fill || '#000'}
  >
    {children}
  </text>
);

export default function App() {
  return (
    <div
      style={{
        position: 'absolute',
        left: 0,
        top: 0,
        width: 960,
        height: 614,
        background: '#EAF2F3',
        overflow: 'hidden',
        fontFamily: FONT,
      }}
    >
      <ScatterChart width={960} height={614} margin={{ top: 59, right: 27, bottom: 127, left: 35 }}>
        <CartesianGrid vertical={false} stroke="#E2EBEE" strokeWidth={1} fill="#FFFFFF" />
        <XAxis
          type="number"
          dataKey="x"
          domain={[8, 60.93]}
          ticks={xTicks}
          allowDataOverflow
          interval={0}
          height={40}
          tickSize={9}
          axisLine={{ stroke: '#000', strokeWidth: 2 }}
          tickLine={{ stroke: '#000', strokeWidth: 1.5 }}
          tick={<XTick />}
        />
        <YAxis
          type="number"
          dataKey="y"
          domain={[-6.31, 15.76]}
          ticks={yTicks}
          allowDataOverflow
          interval={0}
          width={60}
          tickSize={9}
          axisLine={{ stroke: '#000', strokeWidth: 2 }}
          tickLine={{ stroke: '#000', strokeWidth: 1.5 }}
          tick={<YTick />}
        />
        <Scatter data={parentsData} fill={RED} shape={redDot} isAnimationActive={false} />
        <Scatter data={comparisonData} fill={BLUE} shape={blueDot} isAnimationActive={false} />
        <Scatter
          data={parentsFitData}
          fill={MAROON}
          line={{ stroke: MAROON, strokeWidth: 3.5 }}
          shape={noDot}
          isAnimationActive={false}
        />
        <Scatter
          data={comparisonFitData}
          fill={NAVY}
          line={{ stroke: NAVY, strokeWidth: 3, strokeDasharray: '12 7' }}
          shape={noDot}
          isAnimationActive={false}
        />
      </ScatterChart>
      <svg
        width={960}
        height={614}
        style={{ position: 'absolute', left: 0, top: 0, pointerEvents: 'none' }}
      >
        <rect x={0.5} y={0.5} width={959} height={613} fill="none" stroke="#C3CCD1" strokeWidth={1} />
        <Wide x={514} y={48} sx={1.17} size={29} anchor="middle" fill="#1A2747">
          {chartTitle}
        </Wide>
        <text
          transform="translate(50,253) rotate(-90)"
          textAnchor="middle"
          fontSize={21.5}
          fontFamily={FONT}
          fill="#000"
        >
          {yTitle}
        </text>
        <Wide x={514} y={500} sx={1.2} size={20} anchor="middle">
          {xTitle}
        </Wide>
        <rect x={124.5} y={514} width={780} height={70} fill="#FFFFFF" stroke="#000" strokeWidth={1.5} />
        <circle cx={181} cy={537} r={2.5} fill={RED} />
        <Wide x={241} y={543} sx={1.2} size={20}>
          {seriesNames[0]}
        </Wide>
        <circle cx={699} cy={537} r={2.5} fill={BLUE} />
        <Wide x={759} y={543} sx={1.19} size={20}>
          {seriesNames[1]}
        </Wide>
        <line x1={135} y1={566} x2={224} y2={566} stroke={MAROON} strokeWidth={3.5} />
        <Wide x={245} y={571} sx={1.2} size={20}>
          {seriesNames[0]}
        </Wide>
        <line x1={653} y1={566} x2={742} y2={566} stroke={NAVY} strokeWidth={3} strokeDasharray="12 7" />
        <Wide x={759} y={571} sx={1.19} size={20}>
          {seriesNames[1]}
        </Wide>
      </svg>
    </div>
  );
}
